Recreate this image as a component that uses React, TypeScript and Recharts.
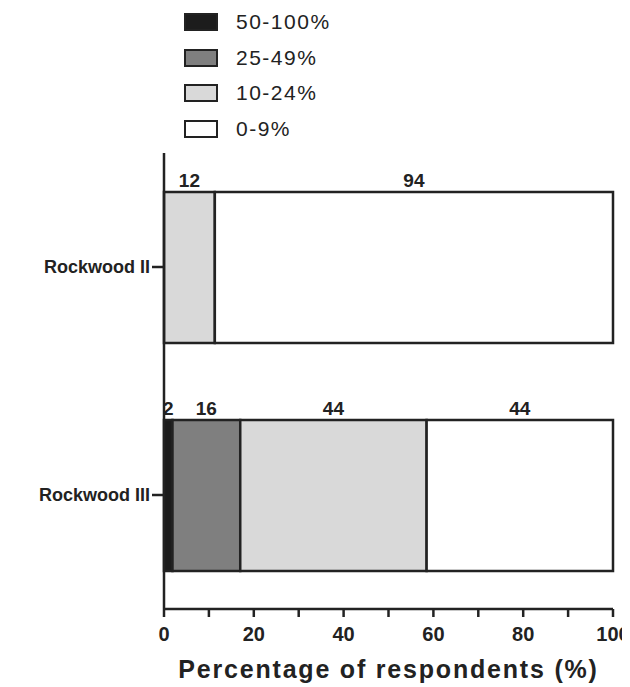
import React from "react";
import { BarChart, Bar, XAxis, YAxis, LabelList, Label } from "recharts";

const categories = ["Rockwood II", "Rockwood III"];
const seriesNames = ["50-100%", "25-49%", "10-24%", "0-9%"];
const seriesColors = ["#1c1c1c", "#7f7f7f", "#d9d9d9", "#ffffff"];
const counts50to100 = [0, 2];
const counts25to49 = [0, 16];
const counts10to24 = [12, 44];
const counts0to9 = [94, 44];
const xTicks = [0, 10, 20, 30, 40, 50, 60, 70, 80, 90, 100];

const seriesCounts = [counts50to100, counts25to49, counts10to24, counts0to9];
const keys = ["s0", "s1", "s2", "s3"];

const data = categories.map((name, i) => {
  const total = seriesCounts.reduce((a, s) => a + s[i], 0);
  const row: any = { name };
  seriesCounts.forEach((s, k) => {
    row[keys[k]] = (s[i] / total) * 100;
    row["c" + k] = s[i];
  });
  return row;
});

const FONT = "'Liberation Sans', Arial, sans-serif";
const INK = "#222";

export default function App() {
  return (
    <div style={{ position: "relative", width: 630, height: 687, margin: "-8px 0 0 -8px", fontFamily: FONT }}>
      <div style={{ position: "absolute", left: 184, top: 4 }}>
        {seriesNames.map((n, k) => (
          <div key={n} style={{ display: "flex", alignItems: "center", height: 35.7 }}>
            <div
              style={{
                width: 30,
                height: 14,
                background: seriesColors[k],
                border: `2.5px solid ${INK}`,
                marginRight: 18,
              }}
            />
            <span style={{ fontSize: 21, color: INK, letterSpacing: 1.5 }}>{n}</span>
          </div>
        ))}
      </div>
      <BarChart
        width={630}
        height={687}
        data={data}
        layout="vertical"
        margin={{ top: 153, right: 17, bottom: 0, left: 0 }}
      >
        <XAxis
          type="number"
          domain={[0, 100]}
          ticks={xTicks}
          interval={0}
          tickFormatter={(v: number) => (v % 20 === 0 ? String(v) : "")}
          axisLine={{ stroke: INK, strokeWidth: 2.5 }}
          tickLine={{ stroke: INK, strokeWidth: 2.5 }}
          tickSize={8}
          tickMargin={10}
          tick={{ fill: INK, fontSize: 20, fontWeight: "bold", fontFamily: FONT }}
          height={78}
        >
          <Label
            value="Percentage of respondents (%)"
            position="insideBottom"
            offset={9}
            style={{ fill: INK, fontSize: 25, fontWeight: "bold", fontFamily: FONT, letterSpacing: 1.8 }}
          />
        </XAxis>
        <YAxis
          type="category"
          dataKey="name"
          width={164}
          axisLine={{ stroke: INK, strokeWidth: 2.5 }}
          tickLine={{ stroke: INK, strokeWidth: 2.5 }}
          tickSize={12}
          tick={{ fill: INK, fontSize: 18, fontWeight: "bold", fontFamily: FONT }}
        />
        {keys.map((k, idx) => (
          <Bar
            key={k}
            dataKey={k}
            stackId="a"
            fill={seriesColors[idx]}
            stroke={INK}
            strokeWidth={2.5}
            barSize={151}
            isAnimationActive={false}
          >
            <LabelList
              dataKey={"c" + idx}
              position="top"
              offset={5}
              formatter={(v: any) => (v ? String(v) : "")}
              style={{ fill: INK, fontSize: 19, fontWeight: "bold", fontFamily: FONT }}
            />
          </Bar>
        ))}
      </BarChart>
    </div>
  );
}
